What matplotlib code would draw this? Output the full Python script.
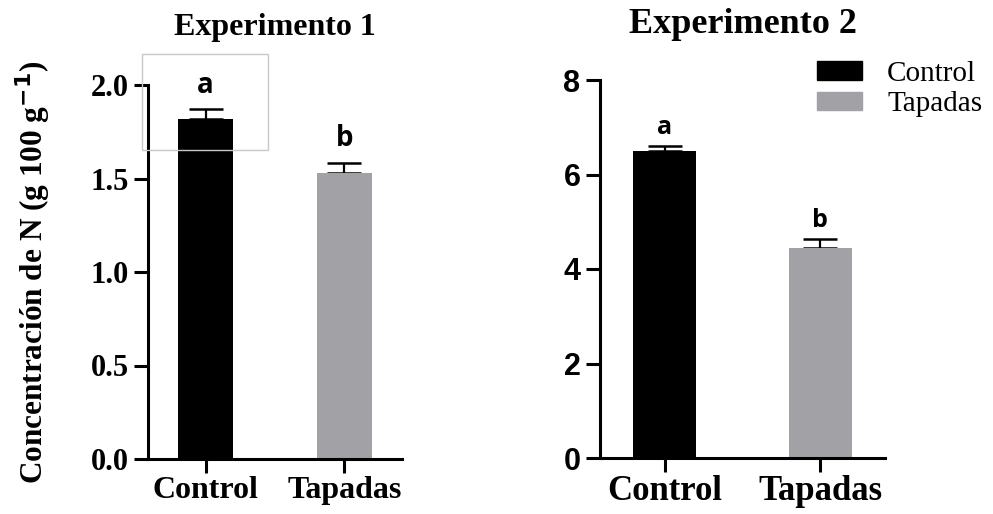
import matplotlib.pyplot as plt
from matplotlib.patches import Rectangle, Patch

categories = ["Control", "Tapadas"]
exp1_values = [1.82, 1.53]
exp1_err = [0.05, 0.055]
exp2_values = [6.49, 4.44]
exp2_err = [0.12, 0.2]
letters = ["a", "b"]
colors = ["#000000", "#a2a2a6"]

serif = "Liberation Serif"
sans = "Liberation Sans"

fig = plt.figure(figsize=(9.93, 5.14), dpi=100)
W, H = 993, 514

def make_ax(x0, x1, ytop, ybot):
    return fig.add_axes([x0 / W, 1 - ybot / H, (x1 - x0) / W, (ybot - ytop) / H])

ax1 = make_ax(148, 402, 85, 459)
ax2 = make_ax(600, 885, 80, 458)

def draw(ax, values, err, ylim, yticks, ylabels, tickfont, letter_pad, letter_size, xfont):
    x = [0, 1]
    ax.bar(x, values, width=0.4, color=colors, zorder=2)
    for i, (v, e) in enumerate(zip(values, err)):
        ax.errorbar(x[i], v, yerr=[[0], [e]], fmt="none", ecolor="black",
                    elinewidth=1.6, capsize=12, capthick=1.8, zorder=1)
        ax.text(x[i], v + e + letter_pad, letters[i], ha="center", va="bottom",
                fontsize=letter_size, fontweight="bold", family="Open Sans")
    ax.set_xlim(-0.415, 1.415)
    ax.set_ylim(*ylim)
    ax.set_yticks(yticks)
    ax.set_yticklabels(ylabels, fontsize=tickfont[1], fontweight="bold", family=tickfont[0])
    ax.set_xticks(x)
    ax.set_xticklabels(categories, fontsize=xfont, fontweight="bold", family=serif)
    for s in ["top", "right"]:
        ax.spines[s].set_visible(False)
    for s in ["left", "bottom"]:
        ax.spines[s].set_linewidth(2.2)
    ax.tick_params(width=2.2, length=10, pad=4)
    ax.tick_params(axis="x", pad=2)

draw(ax1, exp1_values, exp1_err, (0, 2.0), [0, 0.5, 1.0, 1.5, 2.0],
     ["0.0", "0.5", "1.0", "1.5", "2.0"], (serif, 22), 0.05, 20, 23)
draw(ax2, exp2_values, exp2_err, (0, 8), [0, 2, 4, 6, 8],
     ["0", "2", "4", "6", "8"], (sans, 22), 0.12, 18, 25)

ax1.set_title("Experimento 1", fontsize=23, fontweight="bold", family=serif, pad=36)
ax2.set_title("Experimento 2", fontsize=26, fontweight="bold", family=serif, pad=34)

fig.text(33 / W, 1 - 272 / H, "Concentración de N (g 100 g$^{\\mathbf{-1}}$)", rotation=90,
         ha="center", va="center", fontsize=22.5, fontweight="bold", family=serif)

# light gray frame around the first bar
fig.add_artist(Rectangle((142 / W, 1 - 150 / H), 126 / W, 96 / H, transform=fig.transFigure,
                         fill=False, edgecolor="#c8c8c8", linewidth=1.0))

handles = [Patch(facecolor=c, edgecolor=c) for c in colors]
fig.legend(handles, categories, loc="upper left", bbox_to_anchor=(817 / W, 1 - 61 / H),
           frameon=False, prop={"family": serif, "size": 21}, handlelength=1.55,
           handleheight=0.6, handletextpad=0.85, labelspacing=0.15,
           borderpad=0, borderaxespad=0)

fig.savefig("out.png", dpi=100)
